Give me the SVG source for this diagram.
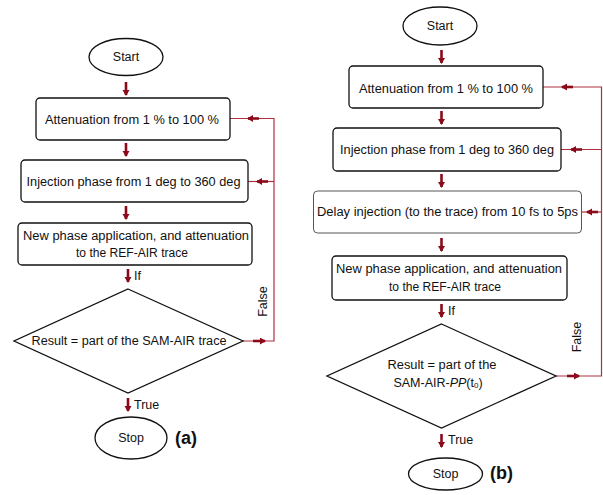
<svg xmlns="http://www.w3.org/2000/svg" width="603" height="495" viewBox="0 0 603 495">
<style>
.box{fill:#fff;stroke:#111;stroke-width:1.3}
.t{font-family:"Liberation Sans",Arial,sans-serif;font-size:12.5px;fill:#111;text-anchor:middle;dominant-baseline:central}
.lb{font-family:"Liberation Sans",Arial,sans-serif;font-size:12.5px;fill:#111;dominant-baseline:central}
.big{font-family:"Liberation Sans",Arial,sans-serif;font-size:18px;font-weight:bold;fill:#111;dominant-baseline:central}
.fb{fill:none;stroke:#b0303f;stroke-width:1.2}
.ar{stroke:#8b0a1a;stroke-width:2.6;marker-end:url(#ah)}
</style>
<defs>
<marker id="ah" markerUnits="userSpaceOnUse" markerWidth="8" markerHeight="8" refX="5" refY="3.5" orient="auto">
<path d="M0,0 L6,3.5 L0,7 z" fill="#8b0a1a"/>
</marker>
</defs>

<g id="connectors">
<!-- left panel -->
<line class="ar" x1="126" y1="82" x2="126" y2="95"/>
<line class="ar" x1="126" y1="143" x2="126" y2="156"/>
<line class="ar" x1="126" y1="206" x2="126" y2="219"/>
<line class="ar" x1="128" y1="269" x2="128" y2="282"/>
<line class="ar" x1="128" y1="398" x2="128" y2="411"/>
<path class="fb" d="M230,118.5 H274 V341 H243"/>
<line class="fb" x1="248" y1="181.5" x2="274" y2="181.5"/>
<line class="ar" x1="259" y1="118.5" x2="248" y2="118.5"/>
<line class="ar" x1="268" y1="181.5" x2="257" y2="181.5"/>
<line class="ar" x1="253" y1="341" x2="265" y2="341"/>
<!-- right panel -->
<line class="ar" x1="441.5" y1="50" x2="441.5" y2="63"/>
<line class="ar" x1="441.5" y1="111" x2="441.5" y2="124"/>
<line class="ar" x1="441.5" y1="174" x2="441.5" y2="187"/>
<line class="ar" x1="441.5" y1="238" x2="441.5" y2="251"/>
<line class="ar" x1="441.5" y1="304" x2="441.5" y2="317"/>
<line class="ar" x1="441.5" y1="434" x2="441.5" y2="447"/>
<path class="fb" d="M543,87 H601.5 V376 H556"/>
<line class="fb" x1="561" y1="149.5" x2="601.5" y2="149.5"/>
<line class="fb" x1="581" y1="212" x2="601.5" y2="212"/>
<line class="ar" x1="573" y1="87" x2="562" y2="87"/>
<line class="ar" x1="582" y1="149.5" x2="571" y2="149.5"/>
<line class="ar" x1="598" y1="212" x2="587" y2="212"/>
<line class="ar" x1="567" y1="376" x2="579" y2="376"/>
</g>

<!-- left labels -->
<text class="lb" x="134" y="276">If</text>
<text class="lb" x="134" y="405">True</text>
<text class="t" transform="translate(263,301.5) rotate(-90)" font-size="11.5">False</text>
<text class="big" x="175" y="438">(a)</text>
<!-- right labels -->
<text class="lb" x="448" y="311">If</text>
<text class="lb" x="448" y="440">True</text>
<text class="t" transform="translate(577,337) rotate(-90)" font-size="11.5">False</text>
<text class="big" x="490" y="472.5">(b)</text>

<g id="a-start">
<ellipse class="box" cx="126" cy="57" rx="37" ry="18.5"/>
<text class="t" x="126" y="57">Start</text>
</g>
<g id="a-atten">
<rect class="box" x="36" y="98" width="194" height="42" rx="4"/>
<text class="t" x="132" y="120" textLength="174" lengthAdjust="spacingAndGlyphs">Attenuation from 1 % to 100 %</text>
</g>
<g id="a-inj">
<rect class="box" x="21" y="160" width="227" height="42" rx="4"/>
<text class="t" x="133.5" y="181.5" textLength="214" lengthAdjust="spacingAndGlyphs">Injection phase from 1 deg to 360 deg</text>
</g>
<g id="a-newphase">
<rect class="box" x="18" y="223" width="234" height="42" rx="4"/>
<text class="t" x="136" y="235.5" textLength="226" lengthAdjust="spacingAndGlyphs">New phase application, and attenuation</text>
<text class="t" x="132" y="253" textLength="112" lengthAdjust="spacingAndGlyphs">to the REF-AIR trace</text>
</g>
<g id="a-decision">
<polygon class="box" points="128,289 243,341 128,393 14,341"/>
<text class="t" x="129" y="341" textLength="195" lengthAdjust="spacingAndGlyphs">Result = part of the SAM-AIR trace</text>
</g>
<g id="a-stop">
<ellipse class="box" cx="131" cy="438" rx="36" ry="21"/>
<text class="t" x="131" y="438">Stop</text>
</g>

<g id="b-start">
<ellipse class="box" cx="440" cy="26" rx="37" ry="19"/>
<text class="t" x="440" y="25.5">Start</text>
</g>
<g id="b-atten">
<rect class="box" x="349" y="66" width="194" height="42" rx="4"/>
<text class="t" x="446" y="89" textLength="174" lengthAdjust="spacingAndGlyphs">Attenuation from 1 % to 100 %</text>
</g>
<g id="b-inj">
<rect class="box" x="333" y="128" width="228" height="43" rx="4"/>
<text class="t" x="447" y="150" textLength="214" lengthAdjust="spacingAndGlyphs">Injection phase from 1 deg to 360 deg</text>
</g>
<g id="b-delay">
<rect class="box" x="313.5" y="191" width="268" height="42" rx="4" style="stroke:#555;stroke-width:1"/>
<text class="t" x="447.5" y="212" textLength="261" lengthAdjust="spacingAndGlyphs">Delay injection (to the trace) from 10 fs to 5ps</text>
</g>
<g id="b-newphase">
<rect class="box" x="332" y="256" width="235" height="44" rx="4"/>
<text class="t" x="449" y="269" textLength="226" lengthAdjust="spacingAndGlyphs">New phase application, and attenuation</text>
<text class="t" x="445" y="287" textLength="112" lengthAdjust="spacingAndGlyphs">to the REF-AIR trace</text>
</g>
<g id="b-decision">
<polygon class="box" points="441.5,324 556,376 441.5,428 327,376"/>
<text class="t" x="442" y="364.5" textLength="109" lengthAdjust="spacingAndGlyphs">Result = part of the</text>
<text class="t" x="438" y="383">SAM-AIR-<tspan font-style="italic">PP</tspan>(t<tspan font-size="8" dy="2">0</tspan><tspan dy="-2">)</tspan></text>
</g>
<g id="b-stop">
<ellipse class="box" cx="445.5" cy="474" rx="37" ry="16"/>
<text class="t" x="445.5" y="474">Stop</text>
</g>
</svg>
